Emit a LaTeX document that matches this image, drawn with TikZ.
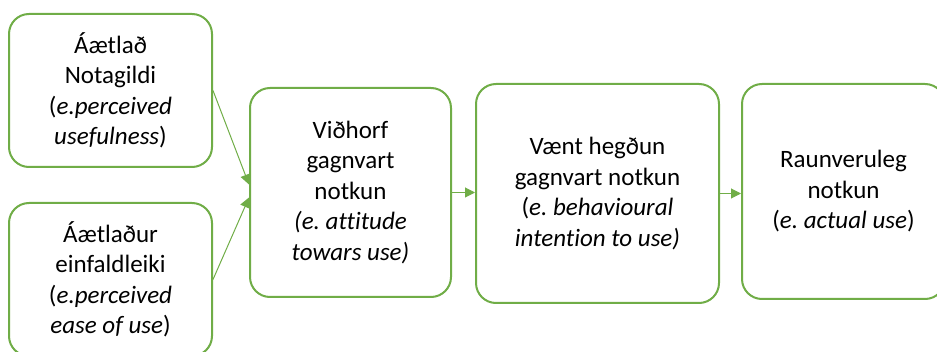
\documentclass[tikz,border=0pt]{standalone}
\usepackage{fontspec}
\setmainfont[Ligatures=NoCommon]{Carlito}
\usetikzlibrary{arrows.meta}
\definecolor{offgreen}{HTML}{70AD47}
\frenchspacing
\tikzset{
  box/.style={draw=offgreen, line width=2pt, rounded corners=20pt, fill=white,
    align=center, font=\fontsize{25}{30.5}\selectfont, inner sep=0pt},
  link/.style={draw=offgreen, line width=1pt, -{Triangle[length=10pt,width=10pt]}}
}
\begin{document}
\begin{tikzpicture}[x=1pt,y=1pt]
\useasboundingbox (0,0) rectangle (937,-352);
\clip (0,0) rectangle (937,-352);
\node[box, minimum width=203pt, minimum height=153pt] (A) at (110.5,-90.5)
  {Áætlað\\Notagildi\\(\textit{e.perceived}\\\textit{usefulness})};
\node[box, minimum width=203pt, minimum height=153pt] (B) at (110.5,-279.5)
  {Áætlaður\\einfaldleiki\\(\textit{e.perceived}\\\textit{ease of use})};
\node[box, minimum width=201pt, minimum height=209pt] (C) at (350.5,-192.5)
  {Viðhorf\\gagnvart\\notkun\\\textit{(e. attitude}\\\textit{towars use)}};
\node[box, minimum width=243pt, minimum height=219pt] (D) at (597.5,-193.5)
  {Vænt hegðun\\gagnvart notkun\\(\textit{e. behavioural}\\\textit{intention to use)}};
\node[box, minimum width=203pt, minimum height=215pt] (E) at (843.5,-191.5)
  {Raunveruleg\\notkun\\(\textit{e. actual use})};
\draw[link] (A.east) -- ([yshift=8pt]C.west);
\draw[link] (B.east) -- ([yshift=-5pt]C.west);
\draw[link] (C.east) -- (C.east -| D.west);
\draw[link] (D.east) -- (D.east -| E.west);
\end{tikzpicture}
\end{document}
